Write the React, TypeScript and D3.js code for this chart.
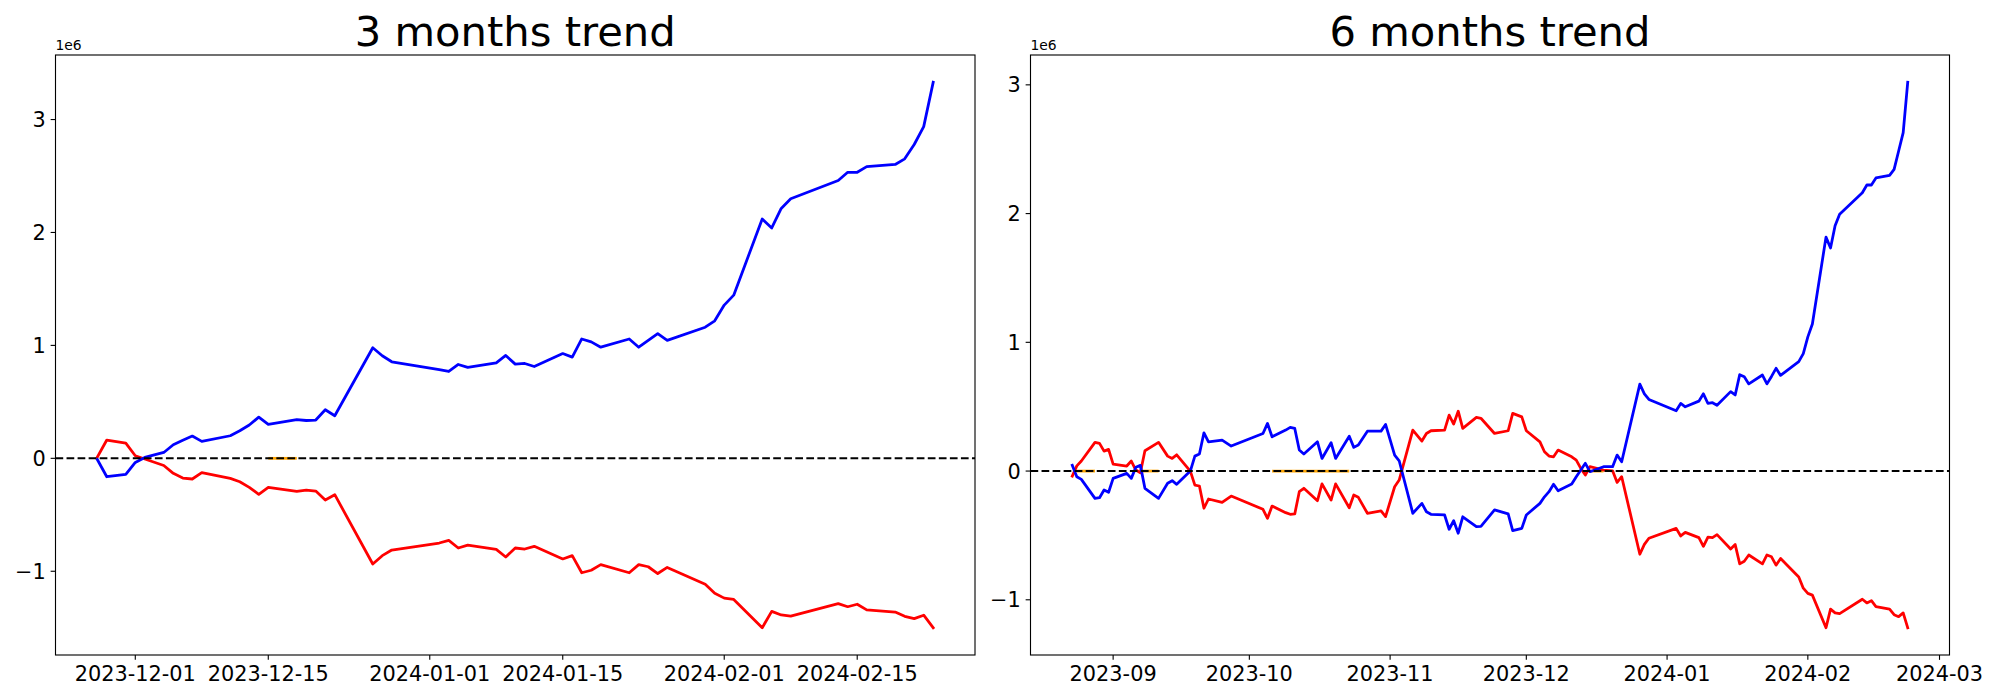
import React from 'react';
import * as d3 from 'd3';

// ---------- 3 months data (values in units of 1e6) ----------
const dates3 = [
  '2023-11-27','2023-11-28','2023-11-30','2023-12-01','2023-12-02','2023-12-04','2023-12-05','2023-12-06','2023-12-07','2023-12-08',
  '2023-12-11','2023-12-12','2023-12-13','2023-12-14','2023-12-15',
  '2023-12-18','2023-12-19','2023-12-20','2023-12-21','2023-12-22',
  '2023-12-26','2023-12-27','2023-12-28',
  '2024-01-02','2024-01-03','2024-01-04','2024-01-05',
  '2024-01-08','2024-01-09','2024-01-10','2024-01-11','2024-01-12',
  '2024-01-15','2024-01-16','2024-01-17','2024-01-18','2024-01-19',
  '2024-01-22','2024-01-23','2024-01-24','2024-01-25','2024-01-26',
  '2024-01-30','2024-01-31','2024-02-01','2024-02-02',
  '2024-02-05','2024-02-06','2024-02-07','2024-02-08',
  '2024-02-13','2024-02-14','2024-02-15','2024-02-16',
  '2024-02-19','2024-02-20','2024-02-21','2024-02-22','2024-02-23',
];
const blue3 = [
  -0.01, -0.163, -0.142, -0.036, 0.008, 0.052, 0.12, 0.16, 0.197, 0.15,
  0.2, 0.244, 0.295, 0.365, 0.3,
  0.342, 0.335, 0.339, 0.43, 0.377,
  0.979, 0.908, 0.855,
  0.785, 0.769, 0.831, 0.805,
  0.846, 0.911, 0.834, 0.84, 0.813,
  0.928, 0.896, 1.057, 1.031, 0.984,
  1.057, 0.984, 1.044, 1.104, 1.044,
  1.161, 1.218, 1.357, 1.445,
  2.119, 2.04, 2.213, 2.298,
  2.46, 2.533, 2.533, 2.583,
  2.602, 2.652, 2.779, 2.937, 3.33,
];
const red3 = [
  0.01, 0.162, 0.135, 0.023, -0.006, -0.063, -0.133, -0.175, -0.183, -0.127,
  -0.178, -0.207, -0.257, -0.319, -0.257,
  -0.293, -0.281, -0.29, -0.369, -0.322,
  -0.936, -0.862, -0.812,
  -0.75, -0.726, -0.794, -0.768,
  -0.806, -0.874, -0.794, -0.803, -0.779,
  -0.891, -0.862, -1.013, -0.991, -0.941,
  -1.013, -0.941, -0.96, -1.02, -0.966,
  -1.115, -1.194, -1.238, -1.25,
  -1.5, -1.355, -1.387, -1.397,
  -1.286, -1.314, -1.292, -1.342,
  -1.361, -1.399, -1.419, -1.389, -1.5,
];
const orange3 = [['2023-12-15', '2023-12-18']];
const xticks3 = ['2023-12-01', '2023-12-15', '2024-01-01', '2024-01-15', '2024-02-01', '2024-02-15'];

// ---------- 6 months data (values in units of 1e6) ----------
const dates6 = [
  '2023-08-23','2023-08-24','2023-08-25','2023-08-28','2023-08-29','2023-08-30','2023-08-31','2023-09-01',
  '2023-09-04','2023-09-05','2023-09-06','2023-09-07','2023-09-08',
  '2023-09-11','2023-09-13','2023-09-14','2023-09-15',
  '2023-09-18','2023-09-19','2023-09-20','2023-09-21','2023-09-22',
  '2023-09-25','2023-09-27',
  '2023-10-04','2023-10-05','2023-10-06',
  '2023-10-09','2023-10-10','2023-10-11','2023-10-12','2023-10-13',
  '2023-10-16','2023-10-17','2023-10-19','2023-10-20',
  '2023-10-23','2023-10-24','2023-10-25','2023-10-27',
  '2023-10-30','2023-10-31','2023-11-02','2023-11-03',
  '2023-11-06','2023-11-08','2023-11-09','2023-11-10',
  '2023-11-13','2023-11-14','2023-11-15','2023-11-16','2023-11-17',
  '2023-11-20','2023-11-21','2023-11-24',
  '2023-11-27','2023-11-28','2023-11-30','2023-12-01',
  '2023-12-04','2023-12-05','2023-12-06','2023-12-07','2023-12-08',
  '2023-12-11','2023-12-12','2023-12-13','2023-12-14','2023-12-15',
  '2023-12-18','2023-12-20','2023-12-21','2023-12-22',
  '2023-12-26','2023-12-27','2023-12-28',
  '2024-01-03','2024-01-04','2024-01-05',
  '2024-01-08','2024-01-09','2024-01-10','2024-01-11','2024-01-12',
  '2024-01-15','2024-01-16','2024-01-17','2024-01-18','2024-01-19',
  '2024-01-22','2024-01-23','2024-01-24','2024-01-25','2024-01-26',
  '2024-01-30','2024-01-31','2024-02-01','2024-02-02',
  '2024-02-05','2024-02-06','2024-02-07','2024-02-08',
  '2024-02-13','2024-02-14','2024-02-15','2024-02-16',
  '2024-02-19','2024-02-20','2024-02-21','2024-02-22','2024-02-23',
];
const blue6 = [
  0.044, -0.044, -0.065, -0.212, -0.207, -0.147, -0.165, -0.057,
  -0.018, -0.057, 0.029, 0.044, -0.134,
  -0.212, -0.095, -0.075, -0.103,
  0.0, 0.116, 0.132, 0.297, 0.227,
  0.24, 0.194,
  0.292, 0.37, 0.266,
  0.318, 0.339, 0.331, 0.163, 0.132,
  0.227, 0.098, 0.22, 0.098,
  0.271, 0.184, 0.202, 0.31,
  0.31, 0.362, 0.124, 0.08,
  -0.328, -0.251, -0.316, -0.336,
  -0.341, -0.452, -0.386, -0.483, -0.355,
  -0.432, -0.43, -0.302,
  -0.333, -0.463, -0.445, -0.341,
  -0.251, -0.2, -0.16, -0.103, -0.153,
  -0.101, -0.044, 0.008, 0.06, -0.005,
  0.034, 0.034, 0.124, 0.072,
  0.675, 0.6, 0.556,
  0.468, 0.525, 0.499,
  0.543, 0.6, 0.525, 0.531, 0.511,
  0.617, 0.591, 0.749, 0.732, 0.677,
  0.746, 0.677, 0.735, 0.798, 0.743,
  0.85, 0.912, 1.042, 1.142,
  1.817, 1.733, 1.905, 1.995,
  2.162, 2.222, 2.222, 2.277,
  2.297, 2.343, 2.486, 2.629, 3.02,
];
const red6 = [
  -0.039, 0.04, 0.078, 0.223, 0.215, 0.155, 0.168, 0.054,
  0.039, 0.078, 0.008, -0.013, 0.158,
  0.223, 0.116, 0.098, 0.126,
  0.0, -0.109, -0.116, -0.289, -0.217,
  -0.243, -0.194,
  -0.297, -0.367, -0.272,
  -0.323, -0.336, -0.333, -0.16, -0.134,
  -0.23, -0.1, -0.225, -0.1,
  -0.285, -0.186, -0.204, -0.328,
  -0.31, -0.354, -0.122, -0.07,
  0.318, 0.233, 0.292, 0.313,
  0.318, 0.434, 0.365, 0.465, 0.331,
  0.417, 0.41, 0.292,
  0.313, 0.448, 0.421, 0.313,
  0.227, 0.15, 0.116, 0.111, 0.163,
  0.111, 0.085, 0.021, -0.031, 0.034,
  0.008, 0.002, -0.088, -0.044,
  -0.646, -0.57, -0.522,
  -0.445, -0.504, -0.476,
  -0.517, -0.585, -0.514, -0.517, -0.494,
  -0.606, -0.571, -0.721, -0.701, -0.652,
  -0.721, -0.652, -0.666, -0.731, -0.679,
  -0.823, -0.91, -0.95, -0.964,
  -1.217, -1.073, -1.102, -1.107,
  -0.996, -1.024, -1.007, -1.053,
  -1.073, -1.116, -1.131, -1.102, -1.217,
];
const orange6 = [
  ['2023-08-24', '2023-08-28'],
  ['2023-09-07', '2023-09-11'],
  ['2023-10-06', '2023-10-23'],
  ['2023-12-15', '2023-12-18'],
];
const xticks6 = ['2023-09', '2023-10', '2023-11', '2023-12', '2024-01', '2024-02', '2024-03'];

const yticks = [-1, 0, 1, 2, 3];

const FONT = 'DejaVu Sans, sans-serif';
const PX = 100 / 72; // points to pixels at dpi 100

const parseDay = d3.utcParse('%Y-%m-%d');
const parseMonth = d3.utcParse('%Y-%m');

type PanelProps = {
  x0: number; x1: number; y0: number; y1: number;
  title: string;
  dates: string[];
  blue: number[];
  red: number[];
  orange: string[][];
  xticks: string[];
  monthly: boolean;
};

function Panel({ x0, x1, y0, y1, title, dates, blue, red, orange, xticks, monthly }: PanelProps) {
  const ds = dates.map((s) => parseDay(s) as Date);
  const dmin = +ds[0];
  const dmax = +ds[ds.length - 1];
  const span = dmax - dmin;
  const x = d3
    .scaleUtc()
    .domain([new Date(dmin - 0.05 * span), new Date(dmax + 0.05 * span)])
    .range([x0, x1]);
  const all = blue.concat(red, [0]);
  const vmin = d3.min(all) as number;
  const vmax = d3.max(all) as number;
  const pad = (vmax - vmin) * 0.05;
  const y = d3.scaleLinear().domain([vmin - pad, vmax + pad]).range([y1, y0]);

  const line = d3
    .line<[Date, number]>()
    .x((d) => x(d[0]))
    .y((d) => y(d[1]));

  const bluePts: [Date, number][] = ds.map((d, i) => [d, blue[i]]);
  const redPts: [Date, number][] = ds.map((d, i) => [d, red[i]]);

  const tickLen = 3.5 * PX;
  const tickPad = 3.5 * PX;
  const tickFs = 15 * PX;
  const lw = 2 * PX;

  return (
    <g>
      <text
        x={(x0 + x1) / 2}
        y={y0 - 6 * PX - 1}
        textAnchor="middle"
        fontFamily={FONT}
        fontSize={30 * PX}
        fill="#000"
      >
        {title}
      </text>
      {orange.map((r, i) => {
        const a = parseDay(r[0]) as Date;
        const b = parseDay(r[1]) as Date;
        return (
          <line
            key={'o' + i}
            x1={x(a)}
            x2={x(b)}
            y1={y(0)}
            y2={y(0)}
            stroke="orange"
            strokeWidth={lw}
          />
        );
      })}
      <path d={line(redPts) || ''} fill="none" stroke="red" strokeWidth={lw} strokeLinejoin="round" strokeLinecap="square" />
      <path d={line(bluePts) || ''} fill="none" stroke="blue" strokeWidth={lw} strokeLinejoin="round" strokeLinecap="square" />
      <line
        x1={x0}
        x2={x1}
        y1={y(0)}
        y2={y(0)}
        stroke="#000"
        strokeWidth={1.5 * PX}
        strokeDasharray={`${3.7 * 1.5 * PX} ${1.6 * 1.5 * PX}`}
      />
      <rect x={x0} y={y0} width={x1 - x0} height={y1 - y0} fill="none" stroke="#000" strokeWidth={0.8 * PX} />
      {xticks.map((t) => {
        const d = (monthly ? parseMonth(t) : parseDay(t)) as Date;
        const xx = x(d);
        return (
          <g key={t}>
            <line x1={xx} x2={xx} y1={y1} y2={y1 + tickLen} stroke="#000" strokeWidth={0.8 * PX} />
            <text
              x={xx}
              y={y1 + tickLen + tickPad + 0.76 * tickFs}
              textAnchor="middle"
              fontFamily={FONT}
              fontSize={tickFs}
              fill="#000"
            >
              {t}
            </text>
          </g>
        );
      })}
      {yticks.map((t) => {
        const yy = y(t);
        return (
          <g key={'y' + t}>
            <line x1={x0 - tickLen} x2={x0} y1={yy} y2={yy} stroke="#000" strokeWidth={0.8 * PX} />
            <text
              x={x0 - tickLen - tickPad}
              y={yy + 0.36 * tickFs}
              textAnchor="end"
              fontFamily={FONT}
              fontSize={tickFs}
              fill="#000"
            >
              {t < 0 ? '\u2212' + Math.abs(t) : String(t)}
            </text>
          </g>
        );
      })}
      <text x={x0} y={y0 - 5} fontFamily={FONT} fontSize={10 * PX} fill="#000">
        1e6
      </text>
    </g>
  );
}

export default function App() {
  return (
    <svg
      width={2000}
      height={700}
      style={{ position: 'absolute', left: 0, top: 0, background: '#fff' }}
      xmlns="http://www.w3.org/2000/svg"
    >
      <rect x={0} y={0} width={2000} height={700} fill="#fff" />
      <Panel
        x0={55.5}
        x1={975}
        y0={55}
        y1={655}
        title="3 months trend"
        dates={dates3}
        blue={blue3}
        red={red3}
        orange={orange3}
        xticks={xticks3}
        monthly={false}
      />
      <Panel
        x0={1030.5}
        x1={1949.5}
        y0={55}
        y1={655}
        title="6 months trend"
        dates={dates6}
        blue={blue6}
        red={red6}
        orange={orange6}
        xticks={xticks6}
        monthly={true}
      />
    </svg>
  );
}
